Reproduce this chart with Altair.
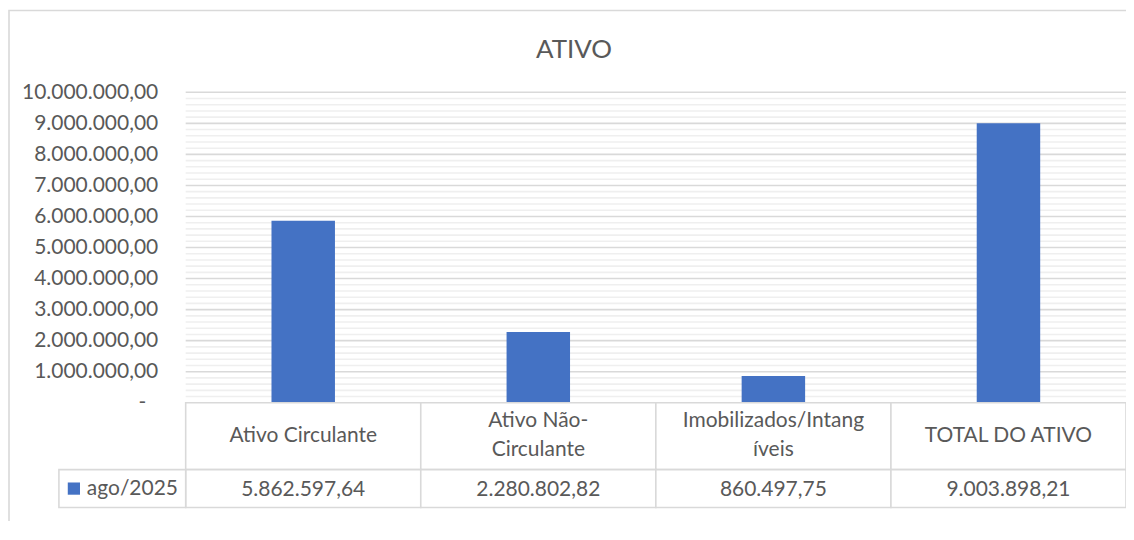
import altair as alt
import pandas as pd

categories = ["Ativo Circulante", "Ativo Não-Circulante", "Imobilizados/Intangíveis", "TOTAL DO ATIVO"]
table_labels = ["Ativo Circulante", "Ativo Não-\nCirculante", "Imobilizados/Intang\níveis", "TOTAL DO ATIVO"]
values = [5862597.64, 2280802.82, 860497.75, 9003898.21]
series_name = "ago/2025"
chart_title = "ATIVO"
y_ticks = [0, 1000000, 2000000, 3000000, 4000000, 5000000, 6000000, 7000000, 8000000, 9000000, 10000000]

df = pd.DataFrame({"cat": categories, "label": table_labels, "value": values})

FONT = "Lato"
FS = 21
TXT = "#595959"
GRID = "#d9d9d9"
MINOR = "#efefef"
BLUE = "#4472C4"
W, H = 942, 311
ROW1_TOP, ROW1_BOT, ROW2_BOT = 311, 378, 416

xs = alt.Scale(domain=categories, paddingInner=0, paddingOuter=0)
ys = alt.Scale(domain=[0, 10000000], nice=False)
yaxis = alt.Axis(
    values=y_ticks,
    format=",.2f",
    labelExpr="datum.value == 0 ? '-' : datum.label",
    grid=False,
    domain=False,
    ticks=False,
    labelPadding={"condition": {"test": "datum.value == 0", "value": 40}, "value": 28},
    labelFont=FONT,
    labelFontSize=FS,
    labelColor=TXT,
    title=None,
)

base = alt.Chart(df)

minor = alt.Chart(alt.sequence(0, 10000001, 200000)).transform_filter(
    "datum.data % 1000000 != 0"
).mark_rule(color=MINOR, strokeWidth=1.6).encode(
    y=alt.Y("data:Q", scale=ys, axis=yaxis, title=None)
)
major = alt.Chart(alt.sequence(0, 10000001, 1000000)).mark_rule(
    color=GRID, strokeWidth=1.6
).encode(y=alt.Y("data:Q", scale=ys, axis=yaxis, title=None))

bars = base.mark_bar(width=alt.RelativeBandSize(0.27), color=BLUE).encode(
    x=alt.X("cat:N", scale=xs, sort=categories, axis=None),
    y=alt.Y("value:Q", scale=ys, axis=yaxis, title=None),
)

xenc = alt.X("cat:N", scale=xs, sort=categories, axis=None)

hdr_cells = base.mark_rect(fill="white", stroke=GRID, strokeWidth=1.6).encode(
    x=xenc, y=alt.value(ROW1_TOP), y2=alt.value(ROW1_BOT)
)
val_cells = base.mark_rect(fill="white", stroke=GRID, strokeWidth=1.6).encode(
    x=xenc, y=alt.value(ROW1_BOT), y2=alt.value(ROW2_BOT)
)
one = pd.DataFrame({"s": [series_name], "t": [chart_title]})
legend_cell = alt.Chart(one).mark_rect(fill="white", stroke=GRID, strokeWidth=1.6).encode(
    x=alt.value(-127), x2=alt.value(0), y=alt.value(ROW1_BOT), y2=alt.value(ROW2_BOT)
)

hdr_text1 = base.transform_filter("indexof(datum.label, '\\n') < 0").mark_text(
    font=FONT, fontSize=FS, color=TXT, baseline="middle"
).encode(x=xenc, y=alt.value(344), text="label:N")
hdr_text2 = base.transform_filter("indexof(datum.label, '\\n') >= 0").mark_text(
    font=FONT, fontSize=FS, color=TXT, lineBreak="\n", lineHeight=29, baseline="middle"
).encode(x=xenc, y=alt.value(329.5), text="label:N")
val_text = base.mark_text(font=FONT, fontSize=FS, color=TXT, baseline="middle").encode(
    x=xenc, y=alt.value(398), text=alt.Text("value:Q", format=",.2f")
)
legend_sym = alt.Chart(one).mark_square(size=150, color=BLUE, opacity=1).encode(
    x=alt.value(-112), y=alt.value(397)
)
legend_text = alt.Chart(one).mark_text(
    font=FONT, fontSize=FS, color=TXT, align="left", baseline="middle"
).encode(x=alt.value(-99), y=alt.value(397), text="s:N")

title_text = alt.Chart(one).mark_text(
    font=FONT, fontSize=26, color=TXT, align="center", baseline="alphabetic"
).encode(x=alt.value(389), y=alt.value(-34), text="t:N")

frame = alt.Chart(one).mark_rect(fill=None, stroke=GRID, strokeWidth=1.6).encode(
    x=alt.value(-177), x2=alt.value(970), y=alt.value(-82), y2=alt.value(470)
)

chart = alt.layer(
    frame, minor, major, bars, hdr_cells, val_cells, legend_cell,
    hdr_text1, hdr_text2, val_text, legend_sym, legend_text, title_text
).resolve_scale(x="shared", y="shared").properties(
    width=W,
    height=H,
    padding={"left": 178, "top": 84, "right": 0, "bottom": 118},
    autosize=alt.AutoSizeParams(type="none"),
).configure(
    background="white",
    locale={"number": {"decimal": ",", "thousands": ".", "grouping": [3], "currency": ["R$ ", ""]}},
).configure_view(strokeWidth=0)

chart.save("out.html", embed_options={"renderer": "svg", "actions": False})
